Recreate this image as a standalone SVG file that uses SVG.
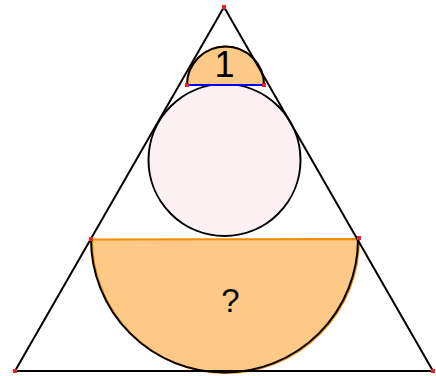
<svg xmlns="http://www.w3.org/2000/svg" width="436" height="376" viewBox="0 0 436 376">
<style>
.ln{stroke:#000;stroke-width:2;fill:none}
.seg{fill:#FDC986;stroke:#F28C00;stroke-width:2}
.pt{fill:#E8202A}
.lbl{font-family:"Liberation Sans",Arial,sans-serif;fill:#000;text-anchor:middle}
</style>
<rect width="436" height="376" fill="#fff"/>
<g id="big-semicircle">
<path class="seg" d="M91,239 L358,238.5 A133.5,133.5 0 0 1 224.5,372.5 A133.5,133.5 0 0 1 91,239 Z" transform="translate(1,0.5)"/>
<path class="ln" d="M358,239 A133.5,133.5 0 0 1 224.5,372.5 A133.5,133.5 0 0 1 91,239"/>
<text class="lbl" x="230.5" y="312" font-size="33">?</text>
</g>
<g id="circle">
<circle cx="224.5" cy="160" r="76" class="ln" style="fill:#FDF0F3"/>
</g>
<g id="small-semicircle">
<path class="seg" d="M187,85 A38.5,38.5 0 0 1 225.5,46.5 A38.5,38.5 0 0 1 264,85 Z"/>
<path class="ln" d="M187,85 A38.5,38.5 0 0 1 225.5,46.5 A38.5,38.5 0 0 1 264,85"/>
<line x1="187" y1="85" x2="264" y2="85" stroke="#0000FF" stroke-width="2"/>
<text class="lbl" x="224.5" y="77" font-size="36">1</text>
</g>
<g id="triangle">
<path class="ln" d="M224,7 L15,371 L433,371 Z" stroke-linejoin="round"/>
</g>
<g id="points">
<rect class="pt" x="222" y="5" width="4" height="4"/>
<rect class="pt" x="13" y="369" width="4" height="4"/>
<rect class="pt" x="431" y="369" width="4" height="4"/>
<rect class="pt" x="89" y="237" width="4" height="4"/>
<rect class="pt" x="357" y="236" width="4" height="4"/>
<rect class="pt" x="185" y="83" width="4" height="4"/>
<rect class="pt" x="262" y="83" width="4" height="4"/>
</g>
</svg>
